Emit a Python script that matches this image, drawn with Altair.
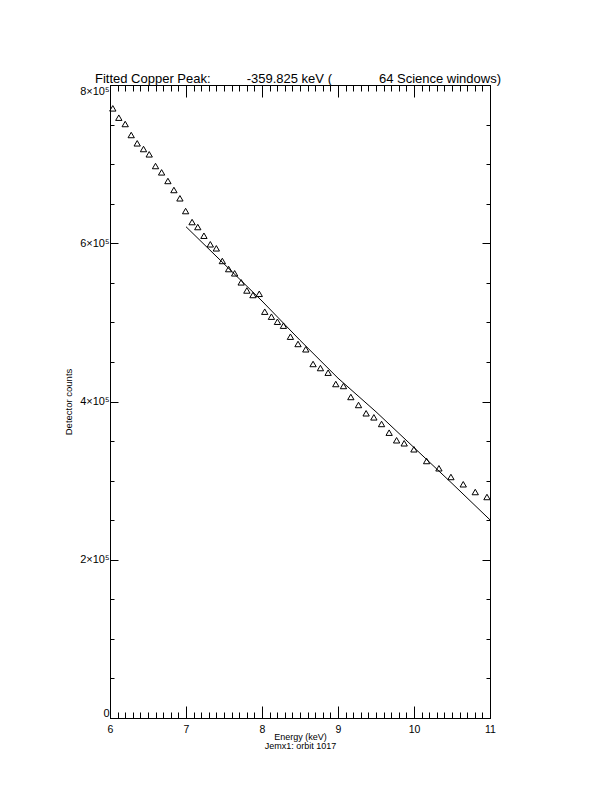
import altair as alt
import pandas as pd

# ---- data ----
energy = [6.037, 6.116, 6.200, 6.279, 6.358, 6.441, 6.516, 6.599, 6.679, 6.762,
          6.841, 6.920, 6.995, 7.080, 7.155, 7.236, 7.320, 7.399, 7.478, 7.561,
          7.640, 7.726, 7.801, 7.881, 7.964, 8.036, 8.124, 8.203, 8.282, 8.374,
          8.474, 8.576, 8.672, 8.769, 8.870, 8.971, 9.072, 9.169, 9.270, 9.370,
          9.472, 9.573, 9.673, 9.771, 9.871, 9.999, 10.166, 10.328, 10.486, 10.648,
          10.806, 10.960]
counts = [770500, 758700, 750700, 736800, 726300, 719100, 712400, 697600, 689600, 678700,
          667300, 656800, 640700, 626800, 620500, 609500, 598700, 593600, 577600, 567400,
          562000, 550600, 540300, 534600, 536100, 513500, 507200, 500800, 495800, 481900,
          472700, 466000, 447400, 442300, 436400, 422100, 419600, 405700, 395600, 385100,
          380000, 371600, 360600, 351000, 347200, 339600, 324800, 315600, 304600, 295400,
          285600, 279300]
fit_energy = [7.0, 7.5, 8.0, 8.5, 9.0, 9.5, 10.0, 10.5, 11.0]
fit_counts = [620900, 574000, 527000, 477400, 429500, 387000, 341800, 296500, 250400]

x_major = [6, 7, 8, 9, 10, 11]
x_minor = [round(6 + 0.1 * i, 1) for i in range(51)]
y_major = [0, 200000, 400000, 600000, 800000]
y_minor = [50000 * i for i in range(17)]

NB = "\u00a0"
title_text = "Fitted Copper Peak:" + NB * 10 + "-359.825 keV (" + NB * 13 + "64 Science windows)"
x_title = ["Energy (keV)", "Jemx1: orbit 1017"]
y_title = "Detector counts"

pts = pd.DataFrame({"e": energy, "c": counts})
fit = pd.DataFrame({"e": fit_energy, "c": fit_counts})

W, H = 380, 633
FONT = "Liberation Sans"
xs = alt.Scale(domain=[6, 11], nice=False, zero=False)
ys = alt.Scale(domain=[0, 800000], nice=False)


def tick_axis(orient, offset, values, size, domain):
    return alt.Axis(orient=orient, offset=offset, values=values, ticks=True,
                    tickSize=size, labels=False, domain=domain, grid=False,
                    title=None)


x_label_axis = alt.Axis(orient="bottom", values=x_major, ticks=False, tickSize=0,
                        domain=True, grid=False, labelFont=FONT, labelFontSize=10.5,
                        labelPadding=6, labelFlush=False, labelBaseline="top",
                        title=x_title, titleFont=FONT, titleFontSize=9,
                        titleFontWeight="normal", titleLineHeight=9.5,
                        titleBaseline="top", titleAlign="center",
                        titleX=190, titleY=14)
y_label_axis = alt.Axis(orient="left", values=y_major, ticks=False, tickSize=0,
                        domain=True, grid=False, labelFont=FONT, labelFontSize=11,
                        labelPadding=1, labelFlush=True, labelFlushOffset=0,
                        labelExpr="datum.value == 0 ? '0' : format(datum.value / 100000, 'd') + '×10⁵'",
                        title=y_title, titleFont=FONT, titleFontSize=9.5,
                        titleFontWeight="normal", titleAngle=270,
                        titleAlign="center", titleBaseline="middle",
                        titleX=-42, titleY=316.5)

points = alt.Chart(pts).mark_point(shape="triangle-up", size=40, filled=False,
                                   color="black", strokeWidth=1, opacity=1).encode(
    x=alt.X("e:Q", scale=xs, axis=x_label_axis),
    y=alt.Y("c:Q", scale=ys, axis=y_label_axis),
)

line = alt.Chart(fit).mark_line(color="black", strokeWidth=1).encode(
    x=alt.X("e:Q", scale=xs, axis=tick_axis("top", -H, x_major, 12, False)),
    y=alt.Y("c:Q", scale=ys, axis=tick_axis("right", -W, y_major, 8, False)),
)

carrier3 = alt.Chart(pts).mark_point(opacity=0).encode(
    x=alt.X("e:Q", scale=xs, axis=tick_axis("top", -H, x_minor, 6, False)),
    y=alt.Y("c:Q", scale=ys, axis=tick_axis("right", -W, y_minor, 4, False)),
)
carrier4 = alt.Chart(pts).mark_point(opacity=0).encode(
    x=alt.X("e:Q", scale=xs, axis=tick_axis("bottom", -H, x_major, 12, True)),
    y=alt.Y("c:Q", scale=ys, axis=tick_axis("left", -W, y_major, 8, True)),
)
carrier5 = alt.Chart(pts).mark_point(opacity=0).encode(
    x=alt.X("e:Q", scale=xs, axis=tick_axis("bottom", -H, x_minor, 6, False)),
    y=alt.Y("c:Q", scale=ys, axis=tick_axis("left", -W, y_minor, 4, False)),
)

chart = alt.layer(points, line, carrier3, carrier4, carrier5).resolve_axis(
    x="independent", y="independent"
).properties(
    width=W, height=H,
    autosize=alt.AutoSizeParams(type="none"),
    padding={"left": 102, "top": 77, "right": 114, "bottom": 66},
    background="white",
    title=alt.TitleParams(text=title_text, font=FONT, fontSize=13,
                          fontWeight="normal", color="black", anchor="middle",
                          frame="group", baseline="alphabetic", offset=5,
                          dx=-2, dy=16),
).configure_axis(
    tickColor="black", domainColor="black", labelColor="black",
    titleColor="black", tickWidth=1, domainWidth=1,
).configure_view(stroke="transparent")

chart.save("out.html", embed_options={"renderer": "svg", "actions": False})
